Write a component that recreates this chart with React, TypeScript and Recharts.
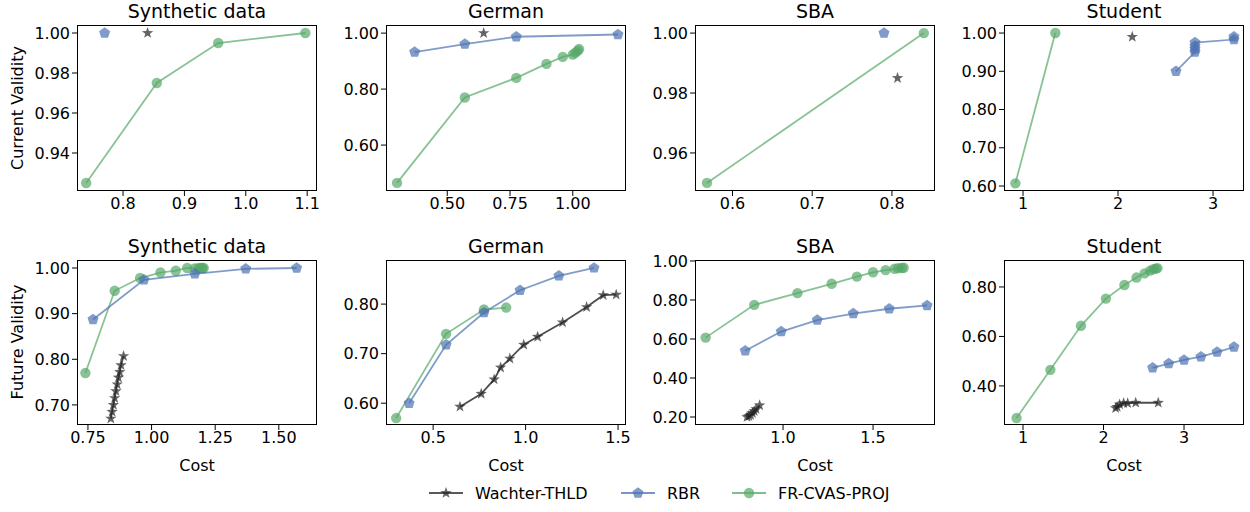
import { ScatterChart, Scatter, XAxis, YAxis } from 'recharts';

const FONT = '"DejaVu Sans", sans-serif';
const BLACK = '#222222';
const BLUE = '#4c72b0';
const GREEN = '#55a868';

type Pt = [number, number];

// row 1: current validity
const synthCurWachter: Pt[] = [[0.84, 1.0]];
const synthCurRbr: Pt[] = [[0.77, 1.0]];
const synthCurFr: Pt[] = [[0.74, 0.925], [0.855, 0.975], [0.955, 0.995], [1.097, 1.0]];

const germanCurWachter: Pt[] = [[0.645, 1.0]];
const germanCurRbr: Pt[] = [[0.37, 0.932], [0.57, 0.961], [0.775, 0.987], [1.18, 0.995]];
const germanCurFr: Pt[] = [
  [0.3, 0.465], [0.57, 0.77], [0.775, 0.84], [0.895, 0.89], [0.96, 0.915],
  [1.0, 0.923], [1.01, 0.93], [1.02, 0.937], [1.025, 0.943],
];

const sbaCurWachter: Pt[] = [[0.807, 0.985]];
const sbaCurRbr: Pt[] = [[0.79, 1.0]];
const sbaCurFr: Pt[] = [[0.568, 0.95], [0.84, 1.0]];

const studentCurWachter: Pt[] = [[2.15, 0.99]];
const studentCurRbr: Pt[] = [
  [2.61, 0.9], [2.81, 0.95], [2.81, 0.958], [2.81, 0.966], [2.81, 0.975], [3.22, 0.983], [3.22, 0.99],
];
const studentCurFr: Pt[] = [[0.92, 0.607], [1.34, 1.0]];

// row 2: future validity
const synthFutWachter: Pt[] = [
  [0.84, 0.67], [0.845, 0.685], [0.85, 0.7], [0.855, 0.715], [0.86, 0.73],
  [0.865, 0.745], [0.87, 0.76], [0.875, 0.772], [0.88, 0.787], [0.89, 0.807],
];
const synthFutRbr: Pt[] = [[0.77, 0.887], [0.97, 0.974], [1.17, 0.987], [1.37, 0.998], [1.57, 1.0]];
const synthFutFr: Pt[] = [
  [0.74, 0.77], [0.855, 0.95], [0.955, 0.978], [1.035, 0.99], [1.095, 0.994], [1.14, 1.0],
  [1.17, 0.999], [1.185, 1.0], [1.195, 1.0], [1.2, 1.0], [1.205, 1.0],
];

const germanFutWachter: Pt[] = [
  [0.645, 0.593], [0.76, 0.619], [0.83, 0.648], [0.865, 0.672], [0.915, 0.69], [0.99, 0.718],
  [1.065, 0.734], [1.2, 0.763], [1.33, 0.794], [1.42, 0.818], [1.49, 0.819],
];
const germanFutRbr: Pt[] = [[0.37, 0.6], [0.57, 0.718], [0.775, 0.783], [0.97, 0.828], [1.18, 0.857], [1.37, 0.873]];
const germanFutFr: Pt[] = [[0.3, 0.57], [0.57, 0.74], [0.775, 0.789], [0.895, 0.793]];

const sbaFutWachter: Pt[] = [
  [0.8, 0.2], [0.81, 0.205], [0.82, 0.21], [0.83, 0.22], [0.84, 0.23], [0.85, 0.24], [0.87, 0.26],
];
const sbaFutRbr: Pt[] = [[0.79, 0.54], [0.99, 0.638], [1.19, 0.697], [1.39, 0.73], [1.59, 0.755], [1.8, 0.772]];
const sbaFutFr: Pt[] = [
  [0.57, 0.607], [0.84, 0.775], [1.08, 0.835], [1.27, 0.883], [1.41, 0.92], [1.5, 0.942],
  [1.57, 0.953], [1.62, 0.96], [1.64, 0.963], [1.66, 0.964], [1.67, 0.965],
];

const studentFutWachter: Pt[] = [
  [2.15, 0.31], [2.17, 0.315], [2.2, 0.325], [2.25, 0.33], [2.3, 0.33], [2.4, 0.332], [2.68, 0.332],
];
const studentFutRbr: Pt[] = [[2.61, 0.473], [2.81, 0.49], [3.0, 0.505], [3.21, 0.518], [3.41, 0.537], [3.62, 0.557]];
const studentFutFr: Pt[] = [
  [0.92, 0.27], [1.34, 0.465], [1.72, 0.643], [2.03, 0.753], [2.26, 0.808], [2.41, 0.838],
  [2.51, 0.855], [2.58, 0.866], [2.62, 0.872], [2.65, 0.874], [2.67, 0.876],
];

const titles = ['Synthetic data', 'German', 'SBA', 'Student'];

const toObj = (pts: Pt[]) => pts.map(([x, y]) => ({ x, y }));

const Star = (props: any) => {
  const { cx, cy } = props;
  if (cx == null || cy == null) return null;
  const R = 6, r = 2.4;
  let d = '';
  for (let i = 0; i < 10; i++) {
    const rad = i % 2 === 0 ? R : r;
    const a = -Math.PI / 2 + (i * Math.PI) / 5;
    d += (i === 0 ? 'M' : 'L') + (cx + rad * Math.cos(a)).toFixed(2) + ',' + (cy + rad * Math.sin(a)).toFixed(2);
  }
  return <path d={d + 'Z'} fill={BLACK} fillOpacity={0.7} />;
};

const Pentagon = (props: any) => {
  const { cx, cy } = props;
  if (cx == null || cy == null) return null;
  const R = 5.8;
  let d = '';
  for (let i = 0; i < 5; i++) {
    const a = -Math.PI / 2 + (i * 2 * Math.PI) / 5;
    d += (i === 0 ? 'M' : 'L') + (cx + R * Math.cos(a)).toFixed(2) + ',' + (cy + R * Math.sin(a)).toFixed(2);
  }
  return <path d={d + 'Z'} fill={BLUE} fillOpacity={0.7} />;
};

const Dot = (props: any) => {
  const { cx, cy } = props;
  if (cx == null || cy == null) return null;
  return <circle cx={cx} cy={cy} r={5.2} fill={GREEN} fillOpacity={0.7} />;
};

interface PanelProps {
  left: number;
  top: number;
  h: number;
  title: string;
  xDomain: [number, number];
  yDomain: [number, number];
  xTicks: number[];
  yTicks: number[];
  xDec: number;
  yDec: number;
  wachter: Pt[];
  rbr: Pt[];
  fr: Pt[];
}

const PW = 240;
const MT = 14;

function Panel(p: PanelProps) {
  const tickStyle = { fill: '#000', fontSize: 16, fontFamily: FONT };
  return (
    <>
      <div
        style={{
          position: 'absolute', left: p.left, top: p.top - 24, width: PW, textAlign: 'center',
          fontFamily: FONT, fontSize: 19, lineHeight: '21px', color: '#000',
        }}
      >
        {p.title}
      </div>
      <div style={{ position: 'absolute', left: p.left - 72, top: p.top - MT }}>
        <ScatterChart width={72 + PW + 5} height={MT + p.h + 32} margin={{ top: MT, right: 5, left: 0, bottom: 0 }}>
          <XAxis
            type="number" dataKey="x" domain={p.xDomain} allowDataOverflow ticks={p.xTicks} interval={0}
            height={32} axisLine={false} tickSize={5} tickLine={{ stroke: '#000' }} tick={tickStyle}
            tickFormatter={(v: number) => v.toFixed(p.xDec)}
          />
          <YAxis
            type="number" dataKey="y" domain={p.yDomain} allowDataOverflow ticks={p.yTicks} interval={0}
            width={72} axisLine={false} tickSize={5} tickLine={{ stroke: '#000' }} tick={tickStyle}
            tickFormatter={(v: number) => v.toFixed(p.yDec)}
          />
          <Scatter
            data={toObj(p.fr)} shape={Dot} isAnimationActive={false}
            line={{ stroke: GREEN, strokeWidth: 1.8, strokeOpacity: 0.7 }} lineType="joint"
          />
          <Scatter
            data={toObj(p.rbr)} shape={Pentagon} isAnimationActive={false}
            line={{ stroke: BLUE, strokeWidth: 1.8, strokeOpacity: 0.7 }} lineType="joint"
          />
          <Scatter
            data={toObj(p.wachter)} shape={Star} isAnimationActive={false}
            line={{ stroke: BLACK, strokeWidth: 1.8, strokeOpacity: 0.8 }} lineType="joint"
          />
        </ScatterChart>
      </div>
      <div
        style={{
          position: 'absolute', left: p.left, top: p.top, width: PW, height: p.h,
          border: '1px solid #000', boxSizing: 'border-box', pointerEvents: 'none',
        }}
      />
    </>
  );
}

const LEFTS = [77, 386, 695, 1004];

function LegendItem({ x, label, kind }: { x: number; label: string; kind: 'star' | 'pent' | 'dot' }) {
  const color = kind === 'star' ? BLACK : kind === 'pent' ? BLUE : GREEN;
  return (
    <div style={{ position: 'absolute', left: x, top: 483, height: 20, display: 'flex', alignItems: 'center' }}>
      <svg width={34} height={20}>
        <line x1={0} y1={10} x2={34} y2={10} stroke={color} strokeWidth={1.8} strokeOpacity={0.75} />
        {kind === 'star' && <Star cx={17} cy={10} />}
        {kind === 'pent' && <Pentagon cx={17} cy={10} />}
        {kind === 'dot' && <Dot cx={17} cy={10} />}
      </svg>
      <span style={{ marginLeft: 12, fontFamily: FONT, fontSize: 16, color: '#000' }}>{label}</span>
    </div>
  );
}

export default function App() {
  const top1 = 25;
  const top2 = 260;
  return (
    <div style={{ position: 'absolute', left: 0, top: 0, width: 1250, height: 512, background: '#fff' }}>
      <Panel left={LEFTS[0]} top={top1} h={166} title={titles[0]}
        xDomain={[0.725, 1.116]} yDomain={[0.921, 1.004]} xTicks={[0.8, 0.9, 1.0, 1.1]} yTicks={[0.94, 0.96, 0.98, 1.0]}
        xDec={1} yDec={2} wachter={synthCurWachter} rbr={synthCurRbr} fr={synthCurFr} />
      <Panel left={LEFTS[1]} top={top1} h={166} title={titles[1]}
        xDomain={[0.256, 1.212]} yDomain={[0.436, 1.029]} xTicks={[0.5, 0.75, 1.0]} yTicks={[0.6, 0.8, 1.0]}
        xDec={2} yDec={2} wachter={germanCurWachter} rbr={germanCurRbr} fr={germanCurFr} />
      <Panel left={LEFTS[2]} top={top1} h={166} title={titles[2]}
        xDomain={[0.553, 0.854]} yDomain={[0.9473, 1.0027]} xTicks={[0.6, 0.7, 0.8]} yTicks={[0.96, 0.98, 1.0]}
        xDec={1} yDec={2} wachter={sbaCurWachter} rbr={sbaCurRbr} fr={sbaCurFr} />
      <Panel left={LEFTS[3]} top={top1} h={166} title={titles[3]}
        xDomain={[0.8, 3.326]} yDomain={[0.587, 1.021]} xTicks={[1, 2, 3]} yTicks={[0.6, 0.7, 0.8, 0.9, 1.0]}
        xDec={0} yDec={2} wachter={studentCurWachter} rbr={studentCurRbr} fr={studentCurFr} />

      <Panel left={LEFTS[0]} top={top2} h={165} title={titles[0]}
        xDomain={[0.707, 1.65]} yDomain={[0.656, 1.0175]} xTicks={[0.75, 1.0, 1.25, 1.5]} yTicks={[0.7, 0.8, 0.9, 1.0]}
        xDec={2} yDec={2} wachter={synthFutWachter} rbr={synthFutRbr} fr={synthFutFr} />
      <Panel left={LEFTS[1]} top={top2} h={165} title={titles[1]}
        xDomain={[0.245, 1.543]} yDomain={[0.556, 0.889]} xTicks={[0.5, 1.0, 1.5]} yTicks={[0.6, 0.7, 0.8]}
        xDec={1} yDec={2} wachter={germanFutWachter} rbr={germanFutRbr} fr={germanFutFr} />
      <Panel left={LEFTS[2]} top={top2} h={165} title={titles[2]}
        xDomain={[0.511, 1.844]} yDomain={[0.159, 1.005]} xTicks={[1.0, 1.5]} yTicks={[0.2, 0.4, 0.6, 0.8, 1.0]}
        xDec={1} yDec={2} wachter={sbaFutWachter} rbr={sbaFutRbr} fr={sbaFutFr} />
      <Panel left={LEFTS[3]} top={top2} h={165} title={titles[3]}
        xDomain={[0.764, 3.745]} yDomain={[0.242, 0.909]} xTicks={[1, 2, 3]} yTicks={[0.4, 0.6, 0.8]}
        xDec={0} yDec={2} wachter={studentFutWachter} rbr={studentFutRbr} fr={studentFutFr} />

      {[
        { text: 'Current Validity', cy: 108 },
        { text: 'Future Validity', cy: 342 },
      ].map((l) => (
        <div key={l.text} style={{
          position: 'absolute', left: 17, top: l.cy, transform: 'translate(-50%, -50%) rotate(-90deg)',
          whiteSpace: 'nowrap', fontFamily: FONT, fontSize: 16, color: '#000',
        }}>{l.text}</div>
      ))}
      {LEFTS.map((lx) => (
        <div key={lx} style={{
          position: 'absolute', left: lx, top: 456, width: PW, textAlign: 'center',
          fontFamily: FONT, fontSize: 16, lineHeight: '20px', color: '#000',
        }}>Cost</div>
      ))}

      <LegendItem x={429} label="Wachter-THLD" kind="star" />
      <LegendItem x={621} label="RBR" kind="pent" />
      <LegendItem x={732} label="FR-CVAS-PROJ" kind="dot" />
    </div>
  );
}
